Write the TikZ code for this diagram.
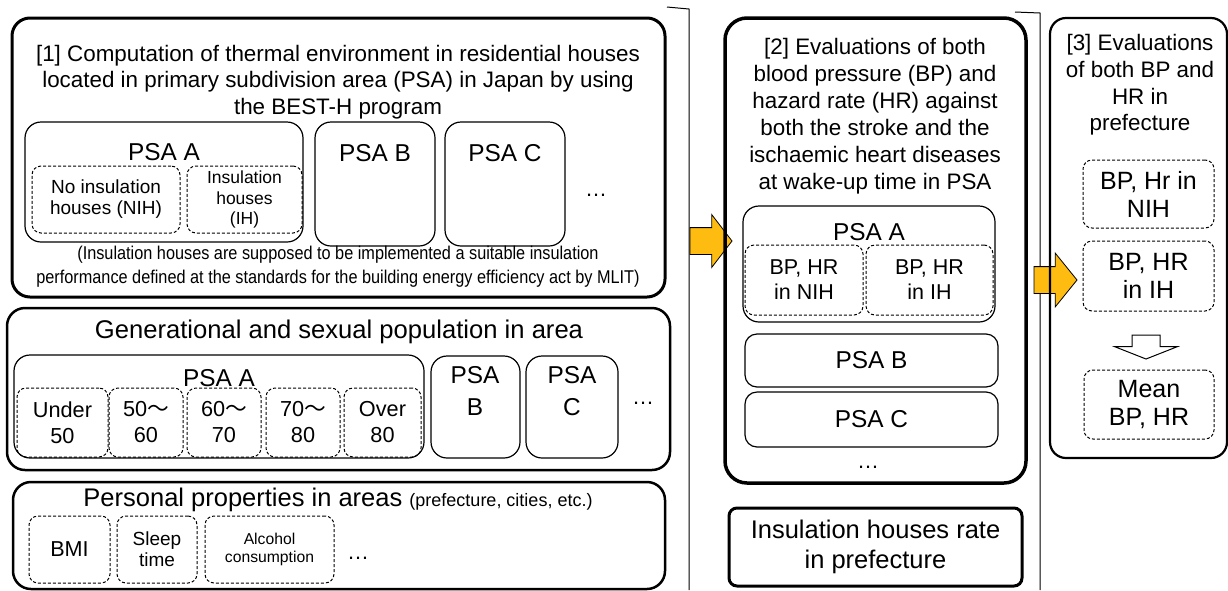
\documentclass[tikz,border=0pt]{standalone}
\usepackage{fontspec}
\setmainfont{Liberation Sans}
\newfontfamily\narrowfont{Liberation Sans}[FakeStretch=0.88]
\newfontfamily\cjkfont{Noto Sans CJK SC}
\usepackage{tikz}
\usetikzlibrary{shapes.arrows}
\definecolor{arrowyellow}{RGB}{254,188,17}
\newcommand{\fs}[2]{\fontsize{#1}{#2}\selectfont}
\newcommand{\tildewave}{{\cjkfont ～}}

\begin{document}
\begin{tikzpicture}[x=1pt,y=-1pt,
  every node/.style={inner sep=0pt, outer sep=0pt, align=center},
  spanbox/.style n args={4}{at={(#1/2+#3/2,#2/2+#4/2)}, minimum width=#3-#1, minimum height=#4-#2},
  outerbox/.style={draw, rounded corners=18pt, line width=2.6pt},
  psabox/.style={draw, rounded corners=16pt, line width=1.2pt},
  dashbox/.style={draw, dash pattern=on 3pt off 2pt, rounded corners=9pt, line width=1pt},
  yarrow/.style={single arrow, draw, fill=arrowyellow, line width=0.8pt, inner xsep=0pt, inner ysep=13pt, anchor=tip},
  titlefont/.style={font=\fs{22.4}{26.6}},
  psafont/.style={font=\fs{24.4}{32}}]
\useasboundingbox (0,0) rectangle (1228,590);

% [1] thermal environment
\node[outerbox, line width=3pt, spanbox={12}{18}{665}{297}] (calc) {};
\node[titlefont] (calctitle) at (338,82) {[1] Computation of thermal environment in residential houses\\located in primary subdivision area (PSA) in Japan by using\\the BEST-H program};
\node[psabox, spanbox={25}{122}{303}{242}] (calcA) {};
\node[psafont] (calcAlbl) at (164,152) {PSA A};
\node[dashbox, font=\fs{19}{21}, spanbox={32}{166}{180}{233}] (calcNIH) {No insulation\\houses (NIH)};
\node[dashbox, font=\fs{17.5}{20.5}, spanbox={187}{166}{302}{233}] (calcIH) {Insulation\\houses\\(IH)};
\node[psabox, spanbox={315}{122}{435}{246}] (calcB) {};
\node[psafont] (calcBlbl) at (375,153) {PSA B};
\node[psabox, spanbox={445}{122}{565}{246}] (calcC) {};
\node[psafont] (calcClbl) at (505,153) {PSA C};
\node[font=\fs{22}{26}] (calcdots) at (596,195) {…};
\node[font=\narrowfont\fs{18.5}{24}] (note) at (338,267) {(Insulation houses are supposed to be implemented a suitable insulation\\performance defined at the standards for the building energy efficiency act by MLIT)};

% population
\node[outerbox, line width=2.5pt, spanbox={7}{308}{670}{470}] (pop) {};
\node[font=\fs{25.6}{30}] (poptitle) at (339,332) {Generational and sexual population in area};
\node[psabox, spanbox={14}{355}{424}{458}] (popA) {};
\node[psafont] (popAlbl) at (219,378) {PSA A};
\foreach \xa/\xb/\txt [count=\i] in {17/108/{Under\\50}, 109/183/{50\tildewave\\60}, 187/261/{60\tildewave\\70}, 266/340/{70\tildewave\\80}, 344/421/{Over\\80}}
  \node[dashbox, font=\fs{21.7}{26}, spanbox={\xa}{388}{\xb}{457}] (age\i) {\txt};
\node[psabox, spanbox={431}{356}{520}{458}] (popB) {};
\node[psafont] (popBlbl) at (475,391) {PSA\\B};
\node[psabox, spanbox={526}{356}{618}{458}] (popC) {};
\node[psafont] (popClbl) at (572,391) {PSA\\C};
\node[font=\fs{22}{26}] (popdots) at (643,403) {…};

% personal properties
\node[outerbox, line width=2.5pt, spanbox={13}{482}{665}{589}] (pers) {};
\node[font=\fs{25.5}{30}] (perstitle) at (338,500) {Personal properties in areas {\fs{18}{20}(prefecture, cities, etc.)}};
\node[dashbox, font=\fs{21.6}{26}, spanbox={29}{516}{110}{583}] (bmi) {BMI};
\node[dashbox, font=\fs{19}{21}, spanbox={117}{516}{197}{583}] (sleep) {Sleep\\time};
\node[dashbox, font=\fs{15.7}{18.5}, spanbox={205}{516}{334}{583}] (alcohol) {Alcohol\\consumption};
\node[font=\fs{22}{26}] (persdots) at (358,558) {…};

% brackets
\draw[line width=1pt] (667,7) -- (689,9) -- (689,590);
\draw[line width=1pt] (1015,12) -- (1040,13) -- (1040,590);

% yellow arrows
\node[yarrow, minimum height=42pt, minimum width=52pt, single arrow head extend=13pt, single arrow tip angle=105] (arrA) at (732,241) {};
\node[yarrow, minimum height=43pt, minimum width=52pt, single arrow head extend=13.5pt, single arrow tip angle=102] (arrB) at (1077,280) {};

% [2] evaluations in PSA
\node[outerbox, line width=3.5pt, rounded corners=22pt, spanbox={725}{18}{1026}{483}] (eval) {};
\node[font=\fs{22.4}{27}] (evaltitle) at (875,116) {[2] Evaluations of both\\blood pressure (BP) and\\hazard rate (HR) against\\both the stroke and the\\ischaemic heart diseases\\at wake-up time in PSA};
\node[psabox, spanbox={743}{206}{995}{322}] (evalA) {};
\node[psafont] (evalAlbl) at (869,232) {PSA A};
\node[dashbox, font=\fs{21.5}{25}, spanbox={745}{245}{863}{315}] (evalNIH) {BP, HR\\in NIH};
\node[dashbox, font=\fs{21.5}{25}, spanbox={866}{245}{993}{315}] (evalIH) {BP, HR\\in IH};
\node[psabox, rounded corners=12pt, psafont, spanbox={745}{334}{998}{387}] (evalB) {PSA B};
\node[psabox, rounded corners=12pt, psafont, spanbox={745}{392}{998}{447}] (evalC) {PSA C};
\node[font=\fs{22}{26}] (evaldots) at (868,467) {…};

\node[outerbox, line width=3pt, rounded corners=8pt, font=\fs{25.5}{30}, spanbox={729}{508}{1022}{586}] (rate) {Insulation houses rate\\in prefecture};

% [3] evaluations in prefecture
\node[outerbox, line width=2.2pt, rounded corners=16pt, spanbox={1050}{18}{1227}{458}] (pref) {};
\node[titlefont] (preftitle) at (1140,85) {[3] Evaluations\\of both BP and\\HR in\\prefecture};
\node[dashbox, font=\fs{25}{28}, spanbox={1083}{160}{1214}{228}] (prefNIH) {BP, Hr in\\NIH};
\node[dashbox, font=\fs{25}{28}, spanbox={1083}{241}{1214}{311}] (prefIH) {BP, HR\\in IH};
\node[dashbox, font=\fs{25}{28}, spanbox={1084}{370}{1214}{439}] (mean) {Mean\\BP, HR};
\node[single arrow, draw, fill=white, line width=1pt, inner xsep=13.5pt, inner ysep=0pt, shape border rotate=270, minimum height=24pt, minimum width=62pt, single arrow head extend=17.5pt, single arrow tip angle=137, anchor=tip] (down) at (1146,359) {};
\end{tikzpicture}
\end{document}
